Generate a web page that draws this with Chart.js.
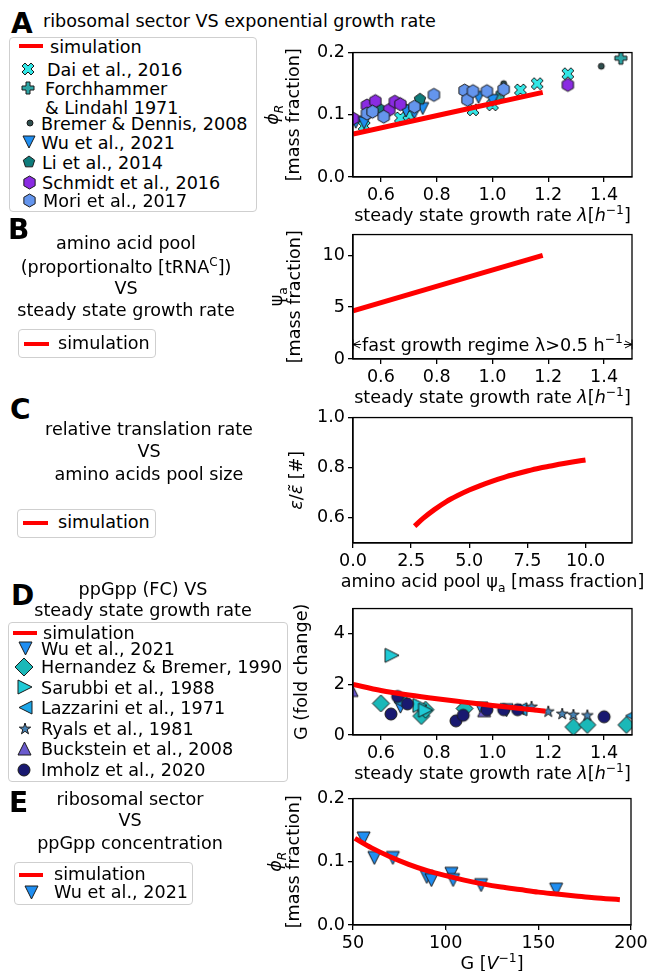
<!DOCTYPE html>
<html><head><meta charset="utf-8">
<script src="https://cdn.jsdelivr.net/npm/chart.js@4.4.1/dist/chart.umd.min.js"></script>
<style>
html,body{margin:0;padding:0;background:#fff;}
body{width:651px;height:971px;position:relative;overflow:hidden;font-family:"DejaVu Sans",sans-serif;color:#000;}
.t{position:absolute;font-size:17.6px;line-height:22px;white-space:nowrap;}
.c{text-align:center;width:300px;}
.big{position:absolute;font-weight:bold;font-size:28px;line-height:28px;}
.box{position:absolute;border:1.3px solid #cfcfcf;border-radius:4px;box-sizing:border-box;}
.ln{position:absolute;height:4.5px;background:#ff0000;}
canvas{position:absolute;}
</style></head><body>
<canvas id="cA"></canvas><canvas id="cB"></canvas><canvas id="cC"></canvas><canvas id="cD"></canvas><canvas id="cE"></canvas>
<script>
// ================= DATA =================
// tick labels
const lambdaTicks = [0.6, 0.8, 1.0, 1.2, 1.4];
const phiTicks = [0.0, 0.1, 0.2];
const psiTicks = [0, 5, 10];
const poolTicks = [0.0, 2.5, 5.0, 7.5, 10.0];
const epsTicks = [0.6, 0.8, 1.0];
const gTicks = [0, 2, 4];
const ppgppTicks = [50, 100, 150, 200];

// Panel A: ribosomal sector vs growth rate
const simA_lambda = [0.5, 1.18];
const simA_phi = [0.069, 0.136];
const daiLambda = [0.54, 0.67, 0.70, 0.93, 1.00, 1.10, 1.16, 1.27];
const daiPhi = [0.082, 0.095, 0.100, 0.108, 0.116, 0.140, 0.150, 0.166];
const forchLambda = [1.02, 1.46];
const forchPhi = [0.128, 0.191];
const bremerLambda = [0.69, 1.04, 1.39];
const bremerPhi = [0.112, 0.150, 0.178];
const wuLambdaA = [0.51, 0.54, 0.69, 0.72, 0.75, 0.95, 1.00];
const wuPhiA = [0.088, 0.087, 0.106, 0.103, 0.110, 0.128, 0.123];
const liLambda = [0.60, 0.74];
const liPhi = [0.108, 0.125];
const schmidtLambda = [0.50, 0.55, 0.58, 0.63, 0.65, 0.67, 1.27];
const schmidtPhi = [0.094, 0.115, 0.122, 0.108, 0.121, 0.117, 0.148];
const moriLambda = [0.55, 0.57, 0.61, 0.72, 0.79, 0.90, 0.91, 0.93, 0.98, 1.04];
const moriPhi = [0.102, 0.105, 0.097, 0.113, 0.132, 0.139, 0.124, 0.138, 0.138, 0.141];

// Panel B: amino acid pool vs growth rate
const simB_lambda = [0.5, 1.18];
const simB_psi = [4.65, 10.0];

// Panel C: relative translation rate vs pool size
const simC_psi = [2.65, 3.0, 3.5, 4.0, 4.5, 5.0, 5.5, 6.0, 6.5, 7.0, 7.5, 8.0, 8.5, 9.0, 9.5, 10.0];
const simC_eps = [0.567, 0.597, 0.633, 0.664, 0.689, 0.711, 0.730, 0.747, 0.762, 0.775, 0.787, 0.798, 0.807, 0.816, 0.824, 0.831];

// Panel D: ppGpp fold change vs growth rate
const simD_lambda = [0.5, 0.6, 0.7, 0.8, 0.9, 1.0, 1.1, 1.19];
const simD_G = [2.0, 1.76, 1.58, 1.43, 1.30, 1.17, 1.05, 0.94];
const wuLambdaD = [0.67, 0.96, 1.05];
const wuG = [1.12, 1.05, 0.98];
const hernLambda = [0.60, 0.745, 0.76, 0.90, 1.29, 1.34, 1.48];
const hernG = [1.25, 0.75, 1.00, 1.05, 0.32, 0.40, 0.40];
const sarubbiLambda = [0.64, 0.74, 0.76];
const sarubbiG = [3.15, 1.17, 0.98];
const lazzLambda = [0.67, 1.10, 1.50];
const lazzG = [1.30, 1.02, 0.76];
const ryalsLambda = [1.10, 1.14, 1.20, 1.25, 1.29, 1.34];
const ryalsG = [1.00, 1.11, 0.92, 0.83, 0.79, 0.77];
const buckLambda = [0.495, 0.97];
const buckG = [1.78, 0.98];
const imholzLambda = [0.636, 0.66, 0.695, 0.869, 0.895, 0.98, 1.04, 1.09, 1.40];
const imholzG = [0.83, 1.52, 1.23, 0.56, 0.78, 1.00, 1.00, 1.00, 0.72];

// Panel E: ribosomal sector vs ppGpp
const simE_G = [51, 60, 70, 80, 90, 100, 110, 120, 130, 140, 150, 160, 170, 180, 194];
const simE_phi = [0.137, 0.122, 0.108, 0.096, 0.086, 0.078, 0.071, 0.065, 0.060, 0.056, 0.052, 0.049, 0.046, 0.043, 0.040];
const wuG_E = [55.7, 61.5, 71.5, 89.8, 92.3, 103.1, 104.0, 119.1, 159.6];
const wuPhiE = [0.137, 0.106, 0.106, 0.076, 0.071, 0.081, 0.071, 0.063, 0.056];

// ================= STYLE =================
const FONT = '"DejaVu Sans", sans-serif';
const FS = 17.6;
const RED = '#ff0000';
const C_DAI = '#33e6e6', C_FORCH = '#2ca5a5', C_BREMER = '#2f4f4f', C_WU = '#1f8ef1',
      C_LI = '#0e7c7b', C_SCHMIDT = '#8a2be2', C_MORI = '#6495ed',
      C_HERN = '#1ab8b8', C_SAR = '#1fcad6', C_LAZ = '#1ca6e8', C_RYALS = '#4682b4',
      C_BUCK = '#6a5acd', C_IMH = '#191970';

// ================= MARKERS =================
function poly(g, p){ g.beginPath(); p.forEach((q,i)=> i ? g.lineTo(q[0],q[1]) : g.moveTo(q[0],q[1])); g.closePath(); }
function regular(n, r, inner){
  const out=[], m = inner ? 2*n : n;
  for (let i=0;i<m;i++){ const a=-Math.PI/2 + i*2*Math.PI/m; const rr = (inner && i%2) ? r*inner : r; out.push([rr*Math.cos(a), rr*Math.sin(a)]); }
  return out;
}
function markerPath(g, shape, r){
  switch(shape){
    case 'o': g.beginPath(); g.arc(0,0,r,0,2*Math.PI); break;
    case 'v': poly(g, [[0,r],[-r,-r],[r,-r]]); break;
    case '^': poly(g, [[0,-r],[-r,r],[r,r]]); break;
    case '>': poly(g, [[r,0],[-r,-r],[-r,r]]); break;
    case '<': poly(g, [[-r,0],[r,-r],[r,r]]); break;
    case 'D': poly(g, [[0,-r],[r,0],[0,r],[-r,0]]); break;
    case 'h': poly(g, regular(6,r)); break;
    case 'p': poly(g, regular(5,r)); break;
    case '*': poly(g, regular(5,r,0.381966)); break;
    case 'P': poly(g, [[-1,-3],[1,-3],[1,-1],[3,-1],[3,1],[1,1],[1,3],[-1,3],[-1,1],[-3,1],[-3,-1],[-1,-1]].map(q=>[q[0]*r/3,q[1]*r/3])); break;
    case 'X': poly(g, [[-1,-2],[0,-1],[1,-2],[2,-1],[1,0],[2,1],[1,2],[0,1],[-1,2],[-2,1],[-1,0],[-2,-1]].map(q=>[q[0]*r/2,q[1]*r/2])); break;
  }
}
function makeMarker(shape, r, fill){
  const s = Math.ceil(2*r + 6);
  const c = document.createElement('canvas'); c.width = s; c.height = s;
  const g = c.getContext('2d');
  g.translate(s/2, s/2);
  markerPath(g, shape, r);
  g.fillStyle = fill; g.fill();
  g.lineWidth = 1; g.strokeStyle = '#1a1a1a'; g.lineJoin = 'miter'; g.stroke();
  return c;
}

// ================= RICH TEXT =================
function drawRich(ctx, segs, cx, cy, rot, size){
  const fnt = s => { const f = s[1]||''; return (f.includes('i')?'italic ':'') + ((f.includes('b')||f.includes('p')) ? size*0.7 : size) + 'px ' + FONT; };
  let w = 0; segs.forEach(s => { ctx.font = fnt(s); w += ctx.measureText(s[0]).width; });
  ctx.save(); ctx.translate(cx, cy); ctx.rotate(rot);
  ctx.fillStyle = '#000'; ctx.textAlign = 'left'; ctx.textBaseline = 'alphabetic';
  let x = -w/2; const base = size*0.36;
  segs.forEach(s => { const f = s[1]||''; ctx.font = fnt(s);
    const dy = f.includes('b') ? size*0.24 : (f.includes('p') ? -size*0.42 : 0);
    ctx.fillText(s[0], x, base + dy); x += ctx.measureText(s[0]).width; });
  ctx.restore();
  return w;
}

function makeDecor(cfg){
  return {
    id: 'decor',
    afterDatasetsDraw(chart){
      if (!cfg.regime) return;
      const ctx = chart.ctx, xs = chart.scales.x, ys = chart.scales.y;
      const x0 = xs.getPixelForValue(cfg.regime[0]), x1 = xs.getPixelForValue(cfg.regime[1]);
      const xc = xs.getPixelForValue(cfg.regime[2]), y = ys.getPixelForValue(cfg.regime[3]);
      const w = drawRich(ctx, cfg.regimeText, xc, y, 0, FS);
      ctx.save(); ctx.strokeStyle = '#000'; ctx.lineWidth = 1;
      ctx.beginPath();
      ctx.moveTo(x0, y); ctx.lineTo(xc - w/2 - 1, y);
      ctx.moveTo(xc + w/2 + 1, y); ctx.lineTo(x1, y);
      ctx.moveTo(x0+7, y-3.5); ctx.lineTo(x0, y); ctx.lineTo(x0+7, y+3.5);
      ctx.moveTo(x1-7, y-3.5); ctx.lineTo(x1, y); ctx.lineTo(x1-7, y+3.5);
      ctx.moveTo(x0, y-5); ctx.lineTo(x0, y+5);
      ctx.moveTo(x1, y-5); ctx.lineTo(x1, y+5);
      ctx.stroke(); ctx.restore();
    },
    afterDraw(chart){
      const ctx = chart.ctx, a = chart.chartArea;
      ctx.save(); ctx.strokeStyle = '#000'; ctx.lineWidth = 1.3;
      ctx.strokeRect(a.left, a.top, a.right - a.left, a.bottom - a.top); ctx.restore();
      drawRich(ctx, cfg.xTitle, (a.left + a.right)/2, a.bottom + 38, 0, FS);
      cfg.yTitles.forEach(t => drawRich(ctx, t.segs, a.left - t.off, (a.top + a.bottom)/2, -Math.PI/2, FS));
    }
  };
}

const pts = (xs, ys) => xs.map((x,i) => ({x, y: ys[i]}));
const simLine = (xs, ys) => ({data: pts(xs, ys), showLine: true, borderColor: RED, backgroundColor: RED, borderWidth: 5,
  pointRadius: 0, pointHoverRadius: 0, cubicInterpolationMode: 'monotone', order: 0, clip: 0, fill: false});
const sc = (xs, ys, shape, r, fill, order) => ({data: pts(xs, ys), pointStyle: makeMarker(shape, r, fill), pointRadius: r,
  pointHoverRadius: r, showLine: false, order, clip: 0});

const L0 = 258;
function panel(id, box, xo, yo, datasets, decor){
  const cv = document.getElementById(id);
  const H = (box.bottom - box.top) + 10 + 50, W = 651 - L0;
  cv.width = W; cv.height = H; cv.style.left = L0 + 'px'; cv.style.top = (box.top - 10) + 'px';
  const axis = (o, isY) => ({
    type: 'linear', min: o.min, max: o.max, position: isY ? 'left' : 'bottom',
    afterFit: s => { if (isY) s.width = box.left - L0; else s.height = 50; },
    afterBuildTicks: s => { s.ticks = o.ticks.map(v => ({value: v})); },
    ticks: {callback: v => Number(v).toFixed(o.dec), color: '#000', font: {family: FONT, size: FS}, padding: 3, autoSkip: false, maxRotation: 0},
    grid: {display: true, drawOnChartArea: false, drawTicks: true, tickLength: 5, color: '#000', lineWidth: 1.3},
    border: {display: true, color: '#000', width: 1.3},
    title: {display: false}
  });
  return new Chart(cv, {
    type: 'scatter', data: {datasets},
    options: {responsive: false, maintainAspectRatio: false, animation: false, devicePixelRatio: 1,
      layout: {padding: {left: 0, top: 10, right: 651 - box.right, bottom: 0}},
      scales: {x: axis(xo, false), y: axis(yo, true)},
      plugins: {legend: {display: false}, tooltip: {enabled: false}}},
    plugins: [makeDecor(decor)]
  });
}

const lamTitle = [['steady state growth rate ',''],['λ','i'],['[',''],['h','i'],['−1','p'],[']','']];
const massFrac = [['[mass fraction]','']];
const phiR = [['ϕ','i'],['R','ib']];

// ---- Panel A
panel('cA', {left: 353, right: 632, top: 49, bottom: 177},
  {min: 0.5, max: 1.5, ticks: lambdaTicks, dec: 1}, {min: 0, max: 0.2, ticks: phiTicks, dec: 1},
  [simLine(simA_lambda, simA_phi),
   sc(moriLambda, moriPhi, 'h', 6.5, C_MORI, 1),
   sc(schmidtLambda, schmidtPhi, 'h', 6.5, C_SCHMIDT, 2),
   sc(liLambda, liPhi, 'p', 6, C_LI, 3),
   sc(wuLambdaA, wuPhiA, 'v', 6, C_WU, 4),
   sc(bremerLambda, bremerPhi, 'o', 3, C_BREMER, 5),
   sc(forchLambda, forchPhi, 'P', 6, C_FORCH, 6),
   sc(daiLambda, daiPhi, 'X', 6, C_DAI, 7)],
  {xTitle: lamTitle, yTitles: [{segs: phiR, off: 81}, {segs: massFrac, off: 60}]});

// ---- Panel B
panel('cB', {left: 353, right: 632, top: 231, bottom: 359},
  {min: 0.5, max: 1.5, ticks: lambdaTicks, dec: 1}, {min: 0, max: 12, ticks: psiTicks, dec: 0},
  [simLine(simB_lambda, simB_psi)],
  {xTitle: lamTitle, yTitles: [{segs: [['ψ',''],['a','b']], off: 77}, {segs: massFrac, off: 59}],
   regime: [0.5, 1.5, 1.0, 1.4], regimeText: [['fast growth regime λ>0.5 h',''],['−1','p']]});

// ---- Panel C
panel('cC', {left: 353, right: 632, top: 414, bottom: 543},
  {min: 0, max: 12, ticks: poolTicks, dec: 1}, {min: 0.5, max: 1.0, ticks: epsTicks, dec: 1},
  [simLine(simC_psi, simC_eps)],
  {xTitle: [['amino acid pool ψ',''],['a','b'],[' [mass fraction]','']],
   yTitles: [{segs: [['ε','i'],['/',''],['ε̃','i'],[' [#]','']], off: 57}]});

// ---- Panel D
panel('cD', {left: 353, right: 632, top: 605, bottom: 735},
  {min: 0.5, max: 1.5, ticks: lambdaTicks, dec: 1}, {min: 0, max: 5, ticks: gTicks, dec: 0},
  [simLine(simD_lambda, simD_G),
   sc(imholzLambda, imholzG, 'o', 6, C_IMH, 1),
   sc(buckLambda, buckG, '^', 6.5, C_BUCK, 2),
   sc(ryalsLambda, ryalsG, '*', 6, C_RYALS, 3),
   sc(lazzLambda, lazzG, '<', 6.5, C_LAZ, 4),
   sc(sarubbiLambda, sarubbiG, '>', 7, C_SAR, 5),
   sc(hernLambda, hernG, 'D', 8.5, C_HERN, 6),
   sc(wuLambdaD, wuG, 'v', 6.5, C_WU, 7)],
  {xTitle: lamTitle, yTitles: [{segs: [['G (fold change)','']], off: 52}]});

// ---- Panel E
panel('cE', {left: 353, right: 631, top: 795, bottom: 925},
  {min: 50, max: 200, ticks: ppgppTicks, dec: 0}, {min: 0, max: 0.2, ticks: phiTicks, dec: 1},
  [simLine(simE_G, simE_phi),
   sc(wuG_E, wuPhiE, 'v', 6.5, C_WU, 1)],
  {xTitle: [['G [',''],['V','i'],['−1','p'],[']','']], yTitles: [{segs: phiR, off: 78}, {segs: massFrac, off: 60}]});

// ================= HTML TEXT / LEGENDS =================
function addText(html, x, cy, center){
  const d = document.createElement('div'); d.className = 't' + (center ? ' c' : ''); d.innerHTML = html;
  d.style.left = (center ? x - 150 : x) + 'px'; d.style.top = (cy - 10.7) + 'px'; document.body.appendChild(d);
}
function addBig(ch, x, cy){
  const d = document.createElement('div'); d.className = 'big'; d.textContent = ch;
  d.style.left = x + 'px'; d.style.top = (cy - 13.5) + 'px'; document.body.appendChild(d);
}
function addBox(l, t, w, h){
  const d = document.createElement('div'); d.className = 'box';
  d.style.left = l + 'px'; d.style.top = t + 'px'; d.style.width = w + 'px'; d.style.height = h + 'px'; document.body.appendChild(d);
}
function addLine(x0, x1, y){
  const d = document.createElement('div'); d.className = 'ln';
  d.style.left = x0 + 'px'; d.style.width = (x1 - x0) + 'px'; d.style.top = (y - 2.25) + 'px'; document.body.appendChild(d);
}
function addMarker(shape, r, fill, x, y){
  const c = makeMarker(shape, r, fill);
  c.style.left = (x - c.width/2) + 'px'; c.style.top = (y - c.height/2) + 'px'; document.body.appendChild(c);
}

// A
addBig('A', 11, 23);
addText('ribosomal sector VS exponential growth rate', 43, 21);
addBox(9, 37, 248, 175);
addLine(19, 43, 46); addText('simulation', 50, 46.5);
addMarker('X', 6, C_DAI, 28, 69); addText('Dai et al., 2016', 47, 69.5);
addMarker('P', 6, C_FORCH, 28, 88); addText('Forchhammer', 45, 89);
addText('&amp; Lindahl 1971', 45, 107.5);
addMarker('o', 3, C_BREMER, 30, 123); addText('Bremer &amp; Dennis, 2008', 41, 123.5);
addMarker('v', 6, C_WU, 29, 142); addText('Wu et al., 2021', 41, 142.5);
addMarker('p', 6, C_LI, 29, 162); addText('Li et al., 2014', 42, 162.5);
addMarker('h', 6.5, C_SCHMIDT, 29, 182); addText('Schmidt et al., 2016', 42, 182.5);
addMarker('h', 6.5, C_MORI, 29, 200); addText('Mori et al., 2017', 43, 200.5);

// B
addBig('B', 8, 229);
addText('amino acid pool', 126, 243, true);
addText('(proportionalto [tRNA<span style="font-size:12px;position:relative;top:-7px">C</span>])', 126, 267, true);
addText('VS', 126, 288, true);
addText('steady state growth rate', 126, 310, true);
addBox(18, 329, 138, 29);
addLine(24, 49, 344); addText('simulation', 58, 343);

// C
addBig('C', 10, 409);
addText('relative translation rate', 149, 429, true);
addText('VS', 149, 451, true);
addText('amino acids pool size', 149, 473.5, true);
addBox(17, 509, 139, 29);
addLine(23, 48, 523); addText('simulation', 58, 522);

// D
addBig('D', 11, 595);
addText('ppGpp (FC) VS', 143, 589, true);
addText('steady state growth rate', 143, 610, true);
addBox(8, 622, 280, 160);
addLine(13, 37, 633); addText('simulation', 43, 632.5);
addMarker('v', 6.5, C_WU, 25, 648); addText('Wu et al., 2021', 41, 648.5);
addMarker('D', 9, C_HERN, 24, 667); addText('Hernandez &amp; Bremer, 1990', 41, 666.5);
addMarker('>', 7, C_SAR, 25, 687); addText('Sarubbi et al., 1988', 41, 687.5);
addMarker('<', 6.5, C_LAZ, 25, 707); addText('Lazzarini et al., 1971', 41, 707.5);
addMarker('*', 6, C_RYALS, 25, 729); addText('Ryals et al., 1981', 41, 728.5);
addMarker('^', 6.5, C_BUCK, 24, 748); addText('Buckstein et al., 2008', 41, 748.5);
addMarker('o', 6, C_IMH, 24, 770); addText('Imholz et al., 2020', 41, 770);

// E
addBig('E', 9, 802);
addText('ribosomal sector', 130, 798.5, true);
addText('VS', 130, 820, true);
addText('ppGpp concentration', 130, 842.5, true);
addBox(14, 862, 179, 43);
addLine(19, 43, 875); addText('simulation', 54, 874);
addMarker('v', 6.5, C_WU, 31, 892); addText('Wu et al., 2021', 54, 891.5);
</script>
</body></html>
